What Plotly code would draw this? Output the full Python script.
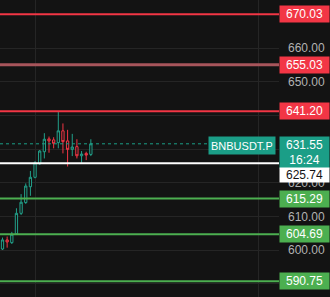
import plotly.graph_objects as go

# ---- data ----
opens  = [600.3, 603.0, 602.2, 604.8, 610.9, 614.1, 618.8, 621.6, 625.6, 629.2,
          633.0, 632.7, 631.9, 635.4, 632.4, 629.9, 630.7, 628.0, 628.7, 628.4]
highs  = [603.7, 604.0, 605.4, 612.4, 616.6, 619.8, 623.5, 626.4, 629.7, 634.7,
          633.7, 633.5, 641.1, 637.6, 635.7, 634.5, 632.9, 629.4, 629.2, 632.9]
lows   = [600.0, 600.7, 601.8, 604.5, 610.4, 613.7, 616.1, 621.3, 625.3, 627.2,
          628.9, 630.2, 630.2, 628.7, 624.8, 627.9, 627.2, 625.9, 626.7, 627.9]
closes = [603.0, 602.4, 604.7, 610.9, 614.2, 619.0, 621.6, 625.9, 629.4, 632.9,
          632.4, 631.7, 635.4, 632.2, 629.9, 630.6, 628.0, 628.5, 628.2, 631.55]
bars = list(range(len(opens)))

red_levels = [670.03, 655.03, 641.20]
green_levels = [615.29, 604.69, 590.75]
white_level = 625.74
last_price = 631.55
symbol = "BNBUSDT.P"
countdown = "16:24"
y_ticks = [590, 600, 610, 620, 630, 640, 650, 660, 670]
y_tick_labels = ["", "600.00", "610.00", "620.00", "", "", "650.00", "660.00", ""]
x_grid = [7, 55]

# ---- style ----
BG = "#131313"
GRID = "#252525"
UP = "#22a08a"
DOWN = "#f23645"
RED = "#f23645"
GREEN = "#4caf50"
TEAL = "#1b9e87"
FONT = "Liberation Sans, Arial, sans-serif"

W, H = 330, 297
PLOT_RIGHT = 279
dom_end = PLOT_RIGHT / W
px_per_bar = 4.65
first_px = 2.5
y_top, y_bot = 674.26, 586.05

fig = go.Figure()
fig.add_trace(go.Candlestick(
    x=bars, open=opens, high=highs, low=lows, close=closes,
    increasing=dict(line=dict(color=UP, width=1), fillcolor=BG),
    decreasing=dict(line=dict(color=DOWN, width=1), fillcolor=BG),
    whiskerwidth=0, hoverinfo="skip", showlegend=False,
))

shapes = []
def hline(y, color, width, dash="solid", x1=dom_end):
    shapes.append(dict(type="line", xref="paper", yref="y", x0=0, x1=x1,
                       y0=y, y1=y, line=dict(color=color, width=width, dash=dash)))

for lv in red_levels:
    if lv == 655.03:
        hline(lv, "#a8555b", 3)
    else:
        hline(lv, RED, 2)
for lv in green_levels:
    hline(lv, GREEN, 2)
hline(white_level, "#ffffff", 2)
hline(last_price, TEAL, 1, dash="dot", x1=211 / W)

annotations = []
def box(y, text, bg, fg="#ffffff", yshift=0, yanchor="middle", height=12):
    annotations.append(dict(
        xref="paper", yref="y", x=dom_end, y=y, xanchor="left", yanchor=yanchor,
        text=text, showarrow=False, bgcolor=bg, width=45, height=height,
        borderpad=2, align="center", yshift=yshift,
        font=dict(family=FONT, size=12, color=fg)))

for lv in red_levels:
    box(lv, f"{lv:.2f}", RED)
for lv in green_levels:
    box(lv, f"{lv:.2f}", GREEN)
box(last_price, f"{last_price:.2f}<br>{countdown}", TEAL, yanchor="top", yshift=8, height=27)
box(white_level, f"{white_level:.2f}", "#ffffff", fg="#131313", yanchor="top", yshift=-3.5, height=10)
annotations.append(dict(
    xref="paper", yref="y", x=276 / W, y=last_price, xanchor="right", yanchor="top",
    yshift=8, text=symbol, showarrow=False, bgcolor=TEAL, borderpad=2, height=13,
    font=dict(family=FONT, size=11, color="#ffffff")))

fig.update_layout(
    width=W, height=H, margin=dict(l=0, r=0, t=0, b=0),
    paper_bgcolor=BG, plot_bgcolor=BG,
    shapes=shapes, annotations=annotations,
    xaxis=dict(domain=[0, dom_end], range=[-first_px / px_per_bar, (PLOT_RIGHT - first_px) / px_per_bar],
               rangeslider=dict(visible=False), showticklabels=False, tickvals=x_grid,
               showgrid=True, gridcolor=GRID, gridwidth=1, zeroline=False, showline=False, ticks=""),
    yaxis=dict(side="right", range=[y_bot, y_top], tickvals=y_ticks,
               ticktext=y_tick_labels, showgrid=True, gridcolor=GRID,
               gridwidth=1, zeroline=False, showline=False, ticks="", ticklabelstandoff=8,
               tickfont=dict(family=FONT, size=12, color="#b2b2b2")),
    showlegend=False,
)

fig.write_html("out.html")
